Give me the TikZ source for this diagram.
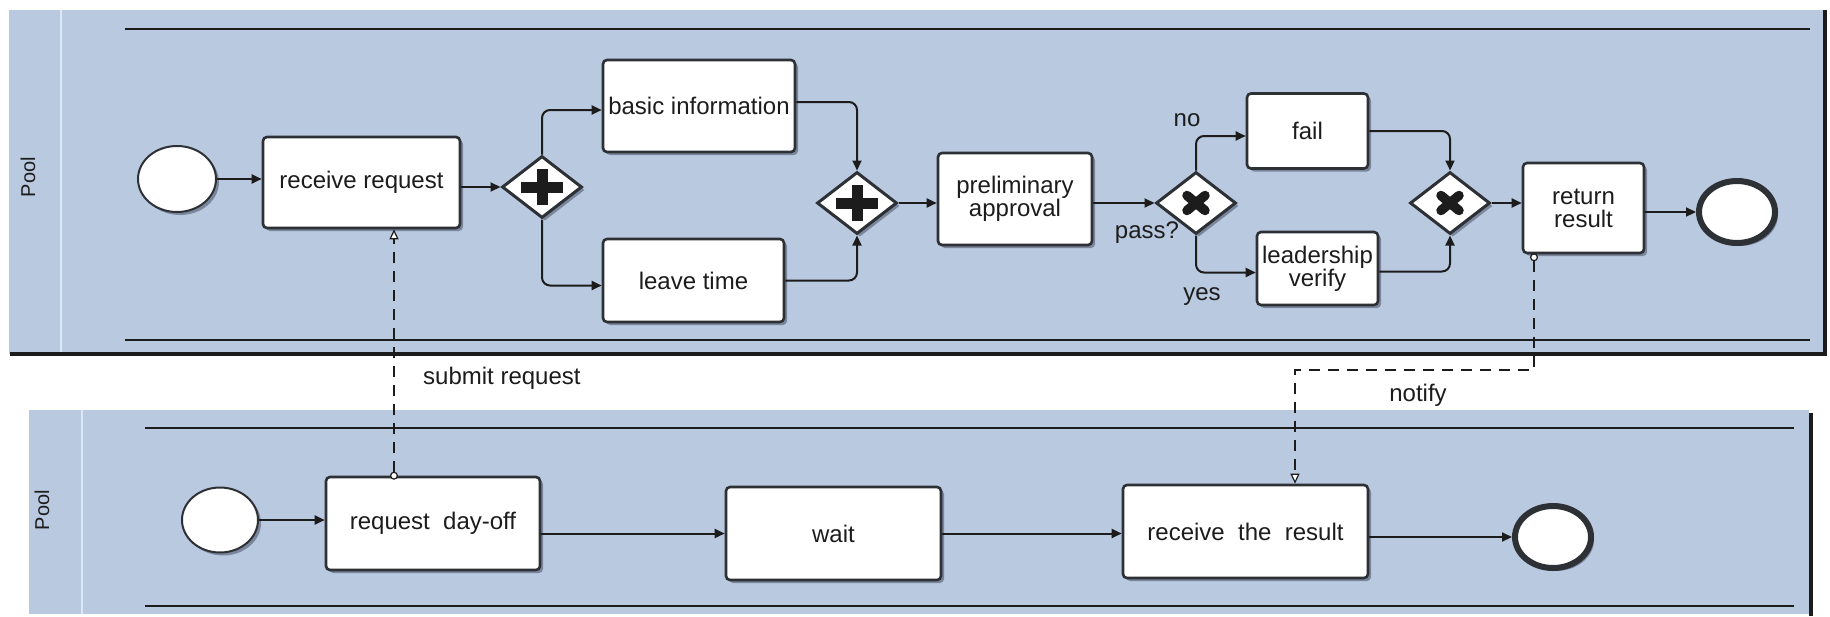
\documentclass[tikz,border=0pt]{standalone}
\usepackage{fontspec}
\setmainfont{Liberation Sans}
\usetikzlibrary{shapes.geometric,arrows.meta,shadows}
\definecolor{poolblue}{RGB}{185,201,223}
\definecolor{hdrline}{RGB}{222,230,241}
\definecolor{ink}{RGB}{28,28,28}
\definecolor{edgec}{RGB}{45,48,52}
\definecolor{shade}{RGB}{70,80,100}
\begin{document}
\begin{tikzpicture}[x=1pt,y=-1pt,
  txt/.style={font=\fontsize{24}{23}\selectfont, text=ink},
  lbl/.style={txt, inner sep=0pt},
  myshadow/.style={drop shadow={shadow xshift=3pt,shadow yshift=-3pt,fill=shade,opacity=0.55}},
  task/.style={txt, draw=edgec, line width=2.6pt, fill=white, rounded corners=4pt,
    align=center, inner sep=0pt, myshadow},
  startev/.style={ellipse, draw=edgec, line width=2pt, fill=white, inner sep=0pt,
    minimum width=78pt, minimum height=66pt, myshadow},
  endev/.style={ellipse, draw=edgec, line width=6pt, fill=white, inner sep=0pt,
    minimum width=76pt, minimum height=62pt, myshadow},
  gw/.style={diamond, draw=edgec, line width=3pt, fill=white, inner sep=0pt,
    shape aspect=1.3, minimum width=80pt, minimum height=62pt, myshadow},
  gsym/.style={draw=ink, line width=11pt},
  xsym/.style={draw=ink, line width=9.5pt, line cap=round},
  seq/.style={draw=ink, line width=2pt, rounded corners=8pt,
    -{Triangle[length=10pt,width=9pt]}},
  msg/.style={draw=ink, line width=2pt, dash pattern=on 11pt off 8pt,
    {Circle[length=8pt,fill=white,line width=1.2pt]}-{Triangle[length=10pt,width=9pt,fill=white,line width=1.2pt]}},
  lane/.style={draw=ink, line width=2.6pt},
  border/.style={draw=ink, line width=4pt},
  hdr/.style={draw=hdrline, line width=2pt}
]
\useasboundingbox (0,0) rectangle (1830,616);
\fill[white] (0,0) rectangle (1830,616);

% ---------- top pool ----------
\fill[poolblue] (9,10) rectangle (1825,354);
\draw[hdr] (61,10) -- (61,352);
\draw[lane] (125,29) -- (1810,29);
\draw[lane] (125,340) -- (1810,340);
\draw[border] (10,354) -- (1825,354) -- (1825,10);
\node[lbl, font=\fontsize{20}{20}\selectfont, rotate=90] (pool1) at (28,177) {Pool};

% ---------- bottom pool ----------
\fill[poolblue] (29,410) rectangle (1809,614);
\draw[hdr] (82,410) -- (82,614);
\draw[lane] (145,428) -- (1794,428);
\draw[lane] (145,606) -- (1794,606);
\draw[border] (1811,413) -- (1811,616);
\node[lbl, font=\fontsize{20}{20}\selectfont, rotate=90] (pool2) at (42,510) {Pool};

% ---------- top process nodes ----------
\node[startev] (s1) at (177,179) {};
\node[task, minimum width=197pt, minimum height=91pt] (rr) at (361.5,182.5) {receive request};
\node[gw] (g1) at (542,187) {};
\node[task, minimum width=192pt, minimum height=92pt] (bi) at (699,106) {basic information};
\node[task, minimum width=181pt, minimum height=83pt] (lt) at (693.5,280.5) {leave time};
\node[gw] (g2) at (857,203) {};
\node[task, minimum width=154pt, minimum height=92pt] (pa) at (1015,199) {preliminary\\approval};
\node[gw] (x1) at (1196,203) {};
\node[task, minimum width=121pt, minimum height=75pt] (fail) at (1307.5,131) {fail};
\node[task, minimum width=121pt, minimum height=73pt] (lv) at (1317.5,268.5) {leadership\\verify};
\node[gw] (x2) at (1450,203) {};
\node[task, minimum width=121pt, minimum height=90pt] (ret) at (1583.5,208) {return\\result};
\node[endev] (e1) at (1737,212) {};

% gateway symbols
\draw[gsym] ([xshift=-21pt]g1.center) -- ([xshift=21pt]g1.center);
\draw[gsym] ([yshift=-18pt]g1.center) -- ([yshift=18pt]g1.center);
\draw[gsym] ([xshift=-21pt]g2.center) -- ([xshift=21pt]g2.center);
\draw[gsym] ([yshift=-18pt]g2.center) -- ([yshift=18pt]g2.center);
\draw[xsym] ([shift={(-9pt,-7.5pt)}]x1.center) -- ([shift={(9pt,7.5pt)}]x1.center);
\draw[xsym] ([shift={(-9pt,7.5pt)}]x1.center) -- ([shift={(9pt,-7.5pt)}]x1.center);
\draw[xsym] ([shift={(-9pt,-7.5pt)}]x2.center) -- ([shift={(9pt,7.5pt)}]x2.center);
\draw[xsym] ([shift={(-9pt,7.5pt)}]x2.center) -- ([shift={(9pt,-7.5pt)}]x2.center);

% top sequence flows
\draw[seq] (s1.east) -- (s1.east -| rr.west);
\draw[seq] (g1.west -| rr.east) -- (g1.west);
\draw[seq] (g1.north) |- ([yshift=-4pt]bi.west);
\draw[seq] (g1.south) |- ([yshift=-5pt]lt.west);
\draw[seq] ([yshift=4pt]bi.east) -| (g2.north);
\draw[seq] (lt.east) -| (g2.south);
\draw[seq] (g2.east) -- (g2.east -| pa.west);
\draw[seq] (x1.west -| pa.east) -- (x1.west);
\draw[seq] (x1.north) |- ([yshift=-5pt]fail.west);
\draw[seq] (x1.south) |- ([yshift=-4pt]lv.west);
\draw[seq] (fail.east) -| (x2.north);
\draw[seq] ([yshift=-3pt]lv.east) -| (x2.south);
\draw[seq] (x2.east) -- (x2.east -| ret.west);
\draw[seq] (e1.west -| ret.east) -- (e1.west);

% gateway labels
\node[lbl] (lno) at (1187,120) {no};
\node[lbl] (lyes) at (1202,297) {yes};
\node[lbl] (lpass) at (1147,233) {pass?};

% ---------- bottom process nodes ----------
\node[startev, minimum width=76pt, minimum height=65pt] (s2) at (220,520) {};
\node[task, minimum width=214pt, minimum height=93pt] (rd) at (433,523.5) {request\ \ day-off};
\node[task, minimum width=215pt, minimum height=93pt] (wait) at (833.5,533.5) {wait};
\node[task, minimum width=245pt, minimum height=93pt] (rec) at (1245.5,531.5) {receive\ \ the\ \ result};
\node[endev] (e2) at (1553,537) {};

\draw[seq] (s2.east) -- (s2.east -| rd.west);
\draw[seq] (wait.west -| rd.east) -- (wait.west);
\draw[seq] (wait.east) -- (wait.east -| rec.west);
\draw[seq] (e2.west -| rec.east) -- (e2.west);

% ---------- message flows ----------
\coordinate (m1s) at ([xshift=-39pt,yshift=-4pt]rd.north);
\draw[msg] (m1s) -- (m1s |- rr.south);
\node[lbl, anchor=west] (lsubmit) at (423,378) {submit request};

\coordinate (m2s) at ([xshift=-49.5pt,yshift=1pt]ret.south);
\coordinate (m2a) at (m2s |- 0,370);
\coordinate (m2b) at (1295,370);
\draw[msg] (m2s) -- (m2a) -- (m2b) -- (m2b |- rec.north);
\node[lbl] (lnotify) at (1418,395) {notify};
\end{tikzpicture}
\end{document}
